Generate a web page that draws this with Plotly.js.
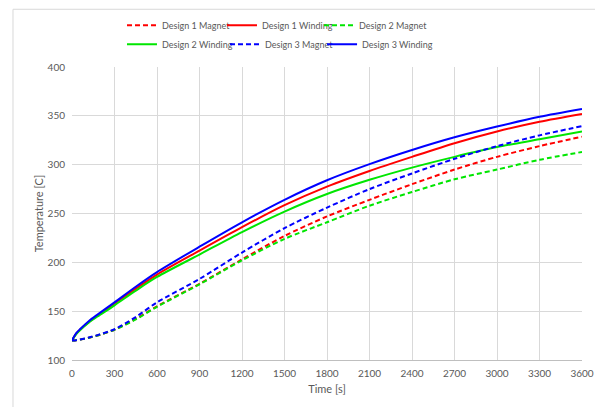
<!DOCTYPE html>
<html>
<head>
<meta charset="utf-8">
<script src="https://cdn.plot.ly/plotly-3.0.1.min.js"></script>
<style>
html,body{margin:0;padding:0;background:#fff;}
#chart{width:595px;height:407px;}
</style>
</head>
<body>
<div id="chart"></div>
<script>
var times = [0, 30, 60, 120, 180, 300, 450, 600, 900, 1200, 1500, 1800, 2100, 2400, 2700, 3000, 3300, 3600];

var design1Magnet  = [120, 120.3, 121, 122.8, 125, 131, 142, 155, 178, 203, 227, 247, 264, 280, 295, 308, 319, 328.6];
var design1Winding = [120, 127, 131.5, 139, 145.5, 158, 173, 187.5, 212, 236, 258.5, 277.5, 293.5, 308, 322, 334, 344, 352];
var design2Magnet  = [120, 120.3, 121, 122.8, 125, 131, 141.5, 154.5, 177.5, 202, 224, 241, 258, 272, 285, 295, 305, 313];
var design2Winding = [120, 126.5, 131, 138.5, 144.5, 156, 171, 185, 208, 231, 252, 270, 284.5, 297, 308, 318, 326, 334];
var design3Magnet  = [120, 120.3, 121, 123, 125.5, 131.5, 144, 159, 183, 210, 235, 256, 275, 291, 306, 319, 330, 339.5];
var design3Winding = [120, 127.5, 132, 140, 146.5, 159, 175, 190, 216, 241, 264, 284, 300.5, 315, 328, 339, 349, 357];

var xTicks = [0, 300, 600, 900, 1200, 1500, 1800, 2100, 2400, 2700, 3000, 3300, 3600];
var yTicks = [100, 150, 200, 250, 300, 350, 400];

var RED = '#ff0000', GREEN = '#00e600', BLUE = '#0000ff';
var DASH = '5px,3px';

function tr(name, y, color, dashed, legend) {
  return {
    x: times, y: y, name: name, type: 'scatter', mode: 'lines',
    line: {color: color, width: 2, dash: dashed ? DASH : 'solid', shape: 'spline', smoothing: 0.8},
    legend: legend, hoverinfo: 'skip'
  };
}

var data = [
  tr('Design 1 Magnet', design1Magnet, RED, true, 'legend'),
  tr('Design 1 Winding', design1Winding, RED, false, 'legend2'),
  tr('Design 2 Magnet', design2Magnet, GREEN, true, 'legend3'),
  tr('Design 2 Winding', design2Winding, GREEN, false, 'legend4'),
  tr('Design 3 Magnet', design3Magnet, BLUE, true, 'legend5'),
  tr('Design 3 Winding', design3Winding, BLUE, false, 'legend6')
];

var FONT = 'Lato, "Open Sans", "Liberation Sans", sans-serif';
var GRAY = '#595959';

function leg(x, y) {
  return {
    orientation: 'h', x: x, xanchor: 'left', y: y, yanchor: 'middle',
    font: {family: FONT, size: 9, color: GRAY},
    bgcolor: 'rgba(0,0,0,0)', borderwidth: 0, itemwidth: 30
  };
}
var ROW1 = 1.139, ROW2 = 1.074;

var layout = {
  width: 595, height: 407,
  margin: {l: 72, r: 13, t: 66, b: 47},
  paper_bgcolor: '#ffffff', plot_bgcolor: '#ffffff',
  font: {family: FONT, size: 10, color: GRAY},
  showlegend: true,
  legend:  leg(0.0980, ROW1),
  legend2: leg(0.2941, ROW1),
  legend3: leg(0.4843, ROW1),
  legend4: leg(0.0980, ROW2),
  legend5: leg(0.3000, ROW2),
  legend6: leg(0.4903, ROW2),
  xaxis: {
    range: [0, 3600], tickvals: xTicks, ticktext: xTicks.map(String),
    showgrid: true, gridcolor: '#d9d9d9', gridwidth: 1,
    zeroline: false, showline: true, linecolor: '#bfbfbf', linewidth: 1,
    ticks: '', ticklabelstandoff: 4, tickfont: {family: FONT, size: 10, color: GRAY},
    title: {text: 'Time [s]', font: {family: FONT, size: 11, color: GRAY}, standoff: 7},
    fixedrange: true
  },
  yaxis: {
    range: [100, 400], tickvals: yTicks, ticktext: yTicks.map(String),
    showgrid: true, gridcolor: '#d9d9d9', gridwidth: 1,
    zeroline: false, showline: false,
    ticks: '', ticklabelstandoff: 6, tickfont: {family: FONT, size: 10, color: GRAY},
    title: {text: 'Temperature [C]', font: {family: FONT, size: 11, color: GRAY}, standoff: 1},
    fixedrange: true
  },
  shapes: [{
    type: 'rect', xref: 'paper', yref: 'paper',
    x0: -0.1157, x1: 1.3, y0: -0.5, y1: 1.197,
    line: {color: '#d9d9d9', width: 1}, fillcolor: 'rgba(0,0,0,0)', layer: 'below'
  }]
};

Plotly.newPlot('chart', data, layout, {displayModeBar: false, staticPlot: true});
</script>
</body>
</html>
